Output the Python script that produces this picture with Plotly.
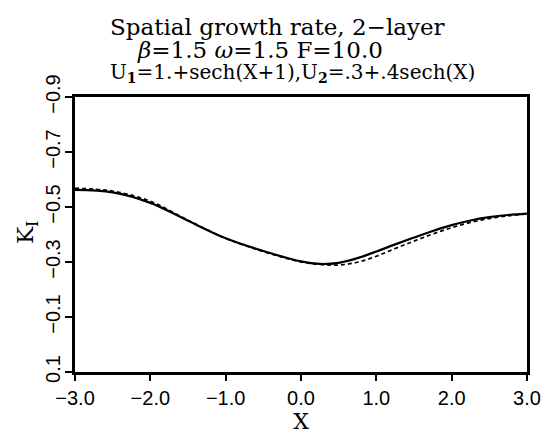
import plotly.graph_objects as go

x_solid = [-3.0, -2.5, -2.0, -1.5, -1.0, -0.5, 0.0, 0.25, 0.5, 0.75, 1.0, 1.25, 1.5, 1.75, 2.0, 2.25, 2.5, 2.75, 3.0]
k_solid = [-0.562, -0.553, -0.515, -0.450, -0.386, -0.340, -0.302, -0.293, -0.297, -0.314, -0.338, -0.364, -0.389, -0.413, -0.434, -0.451, -0.463, -0.471, -0.476]

x_dash = [-3.0, -2.5, -2.0, -1.5, -1.0, -0.5, 0.0, 0.25, 0.5, 0.75, 1.0, 1.25, 1.5, 1.75, 2.0, 2.25, 2.5, 2.75, 3.0]
k_dash = [-0.568, -0.558, -0.521, -0.452, -0.386, -0.338, -0.300, -0.291, -0.289, -0.299, -0.321, -0.349, -0.376, -0.402, -0.425, -0.444, -0.458, -0.468, -0.475]

x_ticks = [-3, -2, -1, 0, 1, 2, 3]
x_tick_labels = ["\u22123.0", "\u22122.0", "\u22121.0", "0.0", "1.0", "2.0", "3.0"]
y_ticks = [-0.9, -0.7, -0.5, -0.3, -0.1, 0.1]
y_tick_labels = ["\u22120.9", "\u22120.7", "\u22120.5", "\u22120.3", "\u22120.1", "0.1"]

title_lines = [
    "Spatial growth rate, 2\u2212layer",
    "<i>\u03b2</i>=1.5 <i>\u03c9</i>=1.5 F=10.0",
    "U<sub><b>1</b></sub>=1.+sech(X+1),U<sub><b>2</b></sub>=.3+.4sech(X)",
]
title_sizes = [23, 23, 20]

serif = "DejaVu Serif"
sans = "Liberation Sans"

fig = go.Figure()
fig.add_trace(go.Scatter(x=x_solid, y=k_solid, mode="lines",
                         line=dict(color="black", width=2.2, shape="spline", smoothing=1.0),
                         showlegend=False))
fig.add_trace(go.Scatter(x=x_dash, y=k_dash, mode="lines",
                         line=dict(color="black", width=1.7, dash="4px,3px", shape="spline", smoothing=1.0),
                         showlegend=False))

fig.update_layout(
    width=556, height=438,
    margin=dict(l=75, r=29, t=97, b=58),
    paper_bgcolor="white", plot_bgcolor="white",
    xaxis=dict(range=[-3, 3], tickvals=x_ticks, ticktext=x_tick_labels,
               ticks="outside", ticklen=6, tickwidth=1.5, tickcolor="black",
               showline=True, linecolor="black", linewidth=3, mirror=True,
               showgrid=False, zeroline=False,
               tickfont=dict(family=sans, size=20, color="black"),
               title=dict(text="X", font=dict(family=serif, size=22, color="black"), standoff=2)),
    yaxis=dict(range=[0.1, -0.9], tickvals=y_ticks, ticktext=y_tick_labels,
               ticks="outside", ticklen=7, tickwidth=1.5, tickcolor="black",
               showline=True, linecolor="black", linewidth=3, mirror=True,
               showgrid=False, zeroline=False, tickangle=-90,
               ticklabelstandoff=-3,
               tickfont=dict(family=sans, size=20, color="black")),
)

ys = [1.255, 1.170, 1.087]
xs = [0.447, 0.409, 0.482]
for t, xx, yy, sz in zip(title_lines, xs, ys, title_sizes):
    fig.add_annotation(text=t, xref="paper", yref="paper", x=xx, y=yy,
                       xanchor="center", yanchor="middle", showarrow=False,
                       font=dict(family=serif, size=sz, color="black"))

fig.add_annotation(text="K<sub>I</sub>", xref="paper", yref="paper",
                   x=(27 - 75) / 452, y=(380 - 236) / 283, textangle=-90,
                   xanchor="center", yanchor="middle", showarrow=False,
                   font=dict(family=serif, size=23, color="black"))

fig.write_html("out.html")
